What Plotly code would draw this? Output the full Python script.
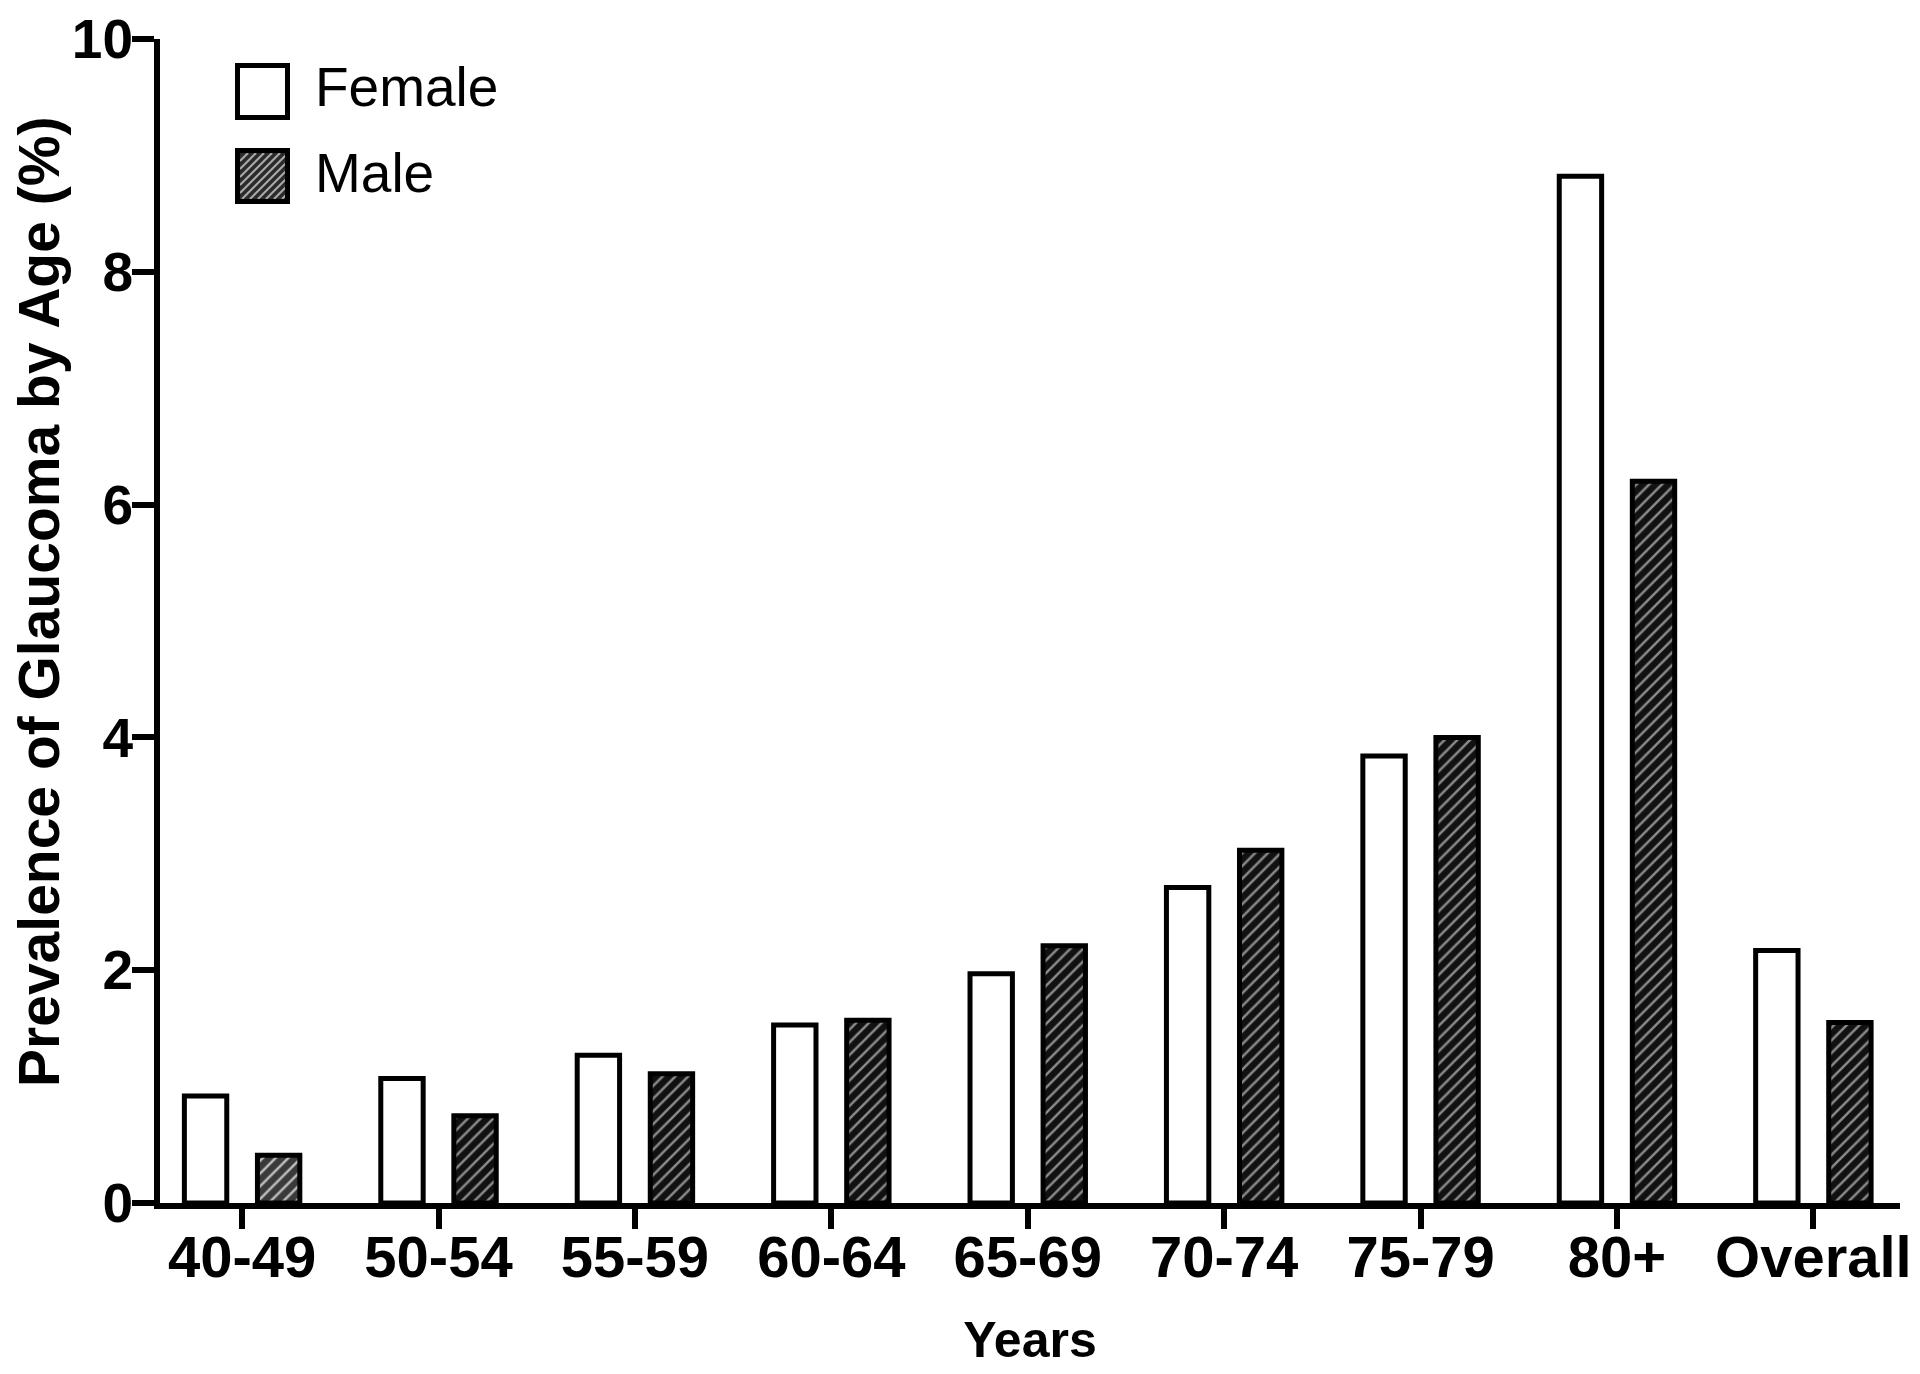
import plotly.graph_objects as go

categories = ["40-49", "50-54", "55-59", "60-64", "65-69", "70-74", "75-79", "80+", "Overall"]
female = [0.92, 1.07, 1.27, 1.53, 1.97, 2.71, 3.84, 8.82, 2.17]
male = [0.41, 0.75, 1.11, 1.57, 2.21, 3.03, 4.00, 6.20, 1.55]
y_ticks = [0, 2, 4, 6, 8, 10]
series_names = ["Female", "Male"]
y_title = "Prevalence of Glaucoma by Age (%)"
x_title = "Years"

FONT = "Liberation Sans, Arial, Helvetica, sans-serif"
W, H = 1920, 1374
ML, MR, MT, MB = 152, 28, 31, 179

male_bg = ["#3a3a3a"] + ["#111111"] * (len(categories) - 1)
male_fg = ["#bdbdbd"] + ["#8a8a8a"] * (len(categories) - 1)

fig = go.Figure()
fig.add_trace(go.Bar(
    x=categories, y=female, name=series_names[0],
    marker=dict(color="white", line=dict(color="black", width=5)),
    showlegend=False,
))
fig.add_trace(go.Bar(
    x=categories, y=male, name=series_names[1],
    marker=dict(color="#111111", line=dict(color="black", width=5),
                pattern=dict(shape="/", bgcolor=male_bg, fgcolor=male_fg,
                             size=9, solidity=0.28, fillmode="replace")),
    showlegend=False,
))

# custom legend (large swatches as in the reference)
shapes = []
def sq(x0, x1, y0, y1, fill):
    return dict(type="rect", xref="paper", yref="paper", xsizemode="pixel", ysizemode="pixel",
                xanchor=0, yanchor=1, x0=x0, x1=x1, y0=y0, y1=y1,
                fillcolor=fill, line=dict(color="black", width=5), layer="above")

shapes.append(sq(77.5, 127.5, -26.5, -78.5, "white"))
shapes.append(sq(77.5, 127.5, -111.5, -162.5, "#2a2a2a"))
# hatch lines inside the male swatch
s = 46.0
u0, v0 = 80.0, -160.0
c = -s + 4
while c < s:
    ua = max(0.0, -c); ub = min(s, s - c)
    shapes.append(dict(type="line", xref="paper", yref="paper", xsizemode="pixel", ysizemode="pixel",
                       xanchor=0, yanchor=1,
                       x0=u0 + ua, y0=v0 + ua + c, x1=u0 + ub, y1=v0 + ub + c,
                       line=dict(color="#a8a8a8", width=2.2), layer="above"))
    c += 8
shapes.append(dict(type="rect", xref="paper", yref="paper", xsizemode="pixel", ysizemode="pixel",
                   xanchor=0, yanchor=1, x0=77.5, x1=127.5, y0=-111.5, y1=-162.5,
                   fillcolor="rgba(0,0,0,0)", line=dict(color="black", width=5), layer="above"))

pw = W - ML - MR
ph = H - MT - MB
annotations = [
    dict(text=series_names[0], x=(305 - ML) / pw, y=1 - (79 - MT) / ph, xref="paper", yref="paper",
         xanchor="left", yanchor="middle", showarrow=False,
         font=dict(family=FONT, size=55, color="black")),
    dict(text=series_names[1], x=(305 - ML) / pw, y=1 - (165 - MT) / ph, xref="paper", yref="paper",
         xanchor="left", yanchor="middle", showarrow=False,
         font=dict(family=FONT, size=55, color="black")),
    dict(text="<b>" + y_title + "</b>", textangle=-90, x=(31 - ML) / pw, y=1 - (594 - MT) / ph,
         xref="paper", yref="paper", xanchor="center", yanchor="middle", showarrow=False,
         font=dict(family=FONT, size=57, color="black")),
]

fig.update_layout(
    width=W, height=H,
    margin=dict(l=ML, r=MR, t=MT, b=MB, autoexpand=False),
    paper_bgcolor="white", plot_bgcolor="white",
    barmode="group", bargap=0.256, bargroupgap=0.42,
    shapes=shapes, annotations=annotations,
    font=dict(family=FONT, color="black"),
    showlegend=False,
)
fig.update_xaxes(
    range=[-0.418, 8.441], showline=True, linecolor="black", linewidth=6,
    ticks="outside", ticklen=20, tickwidth=6, tickcolor="black",
    showgrid=False, zeroline=False, ticklabelstandoff=-22, ticklabeloverflow="allow",
    tickfont=dict(family=FONT, size=58, color="black", weight="bold"),
    title=dict(text="<b>" + x_title + "</b>", font=dict(family=FONT, size=50, color="black"), standoff=36),
    automargin=False,
)
fig.update_yaxes(
    range=[0, 10], tickvals=y_ticks, showline=True, linecolor="black", linewidth=6,
    ticks="outside", ticklen=22, tickwidth=6, tickcolor="black",
    showgrid=False, zeroline=False, ticklabelstandoff=-12, ticklabeloverflow="allow",
    tickfont=dict(family=FONT, size=55, color="black", weight="bold"),
    automargin=False,
)

fig.write_html("out.html")
